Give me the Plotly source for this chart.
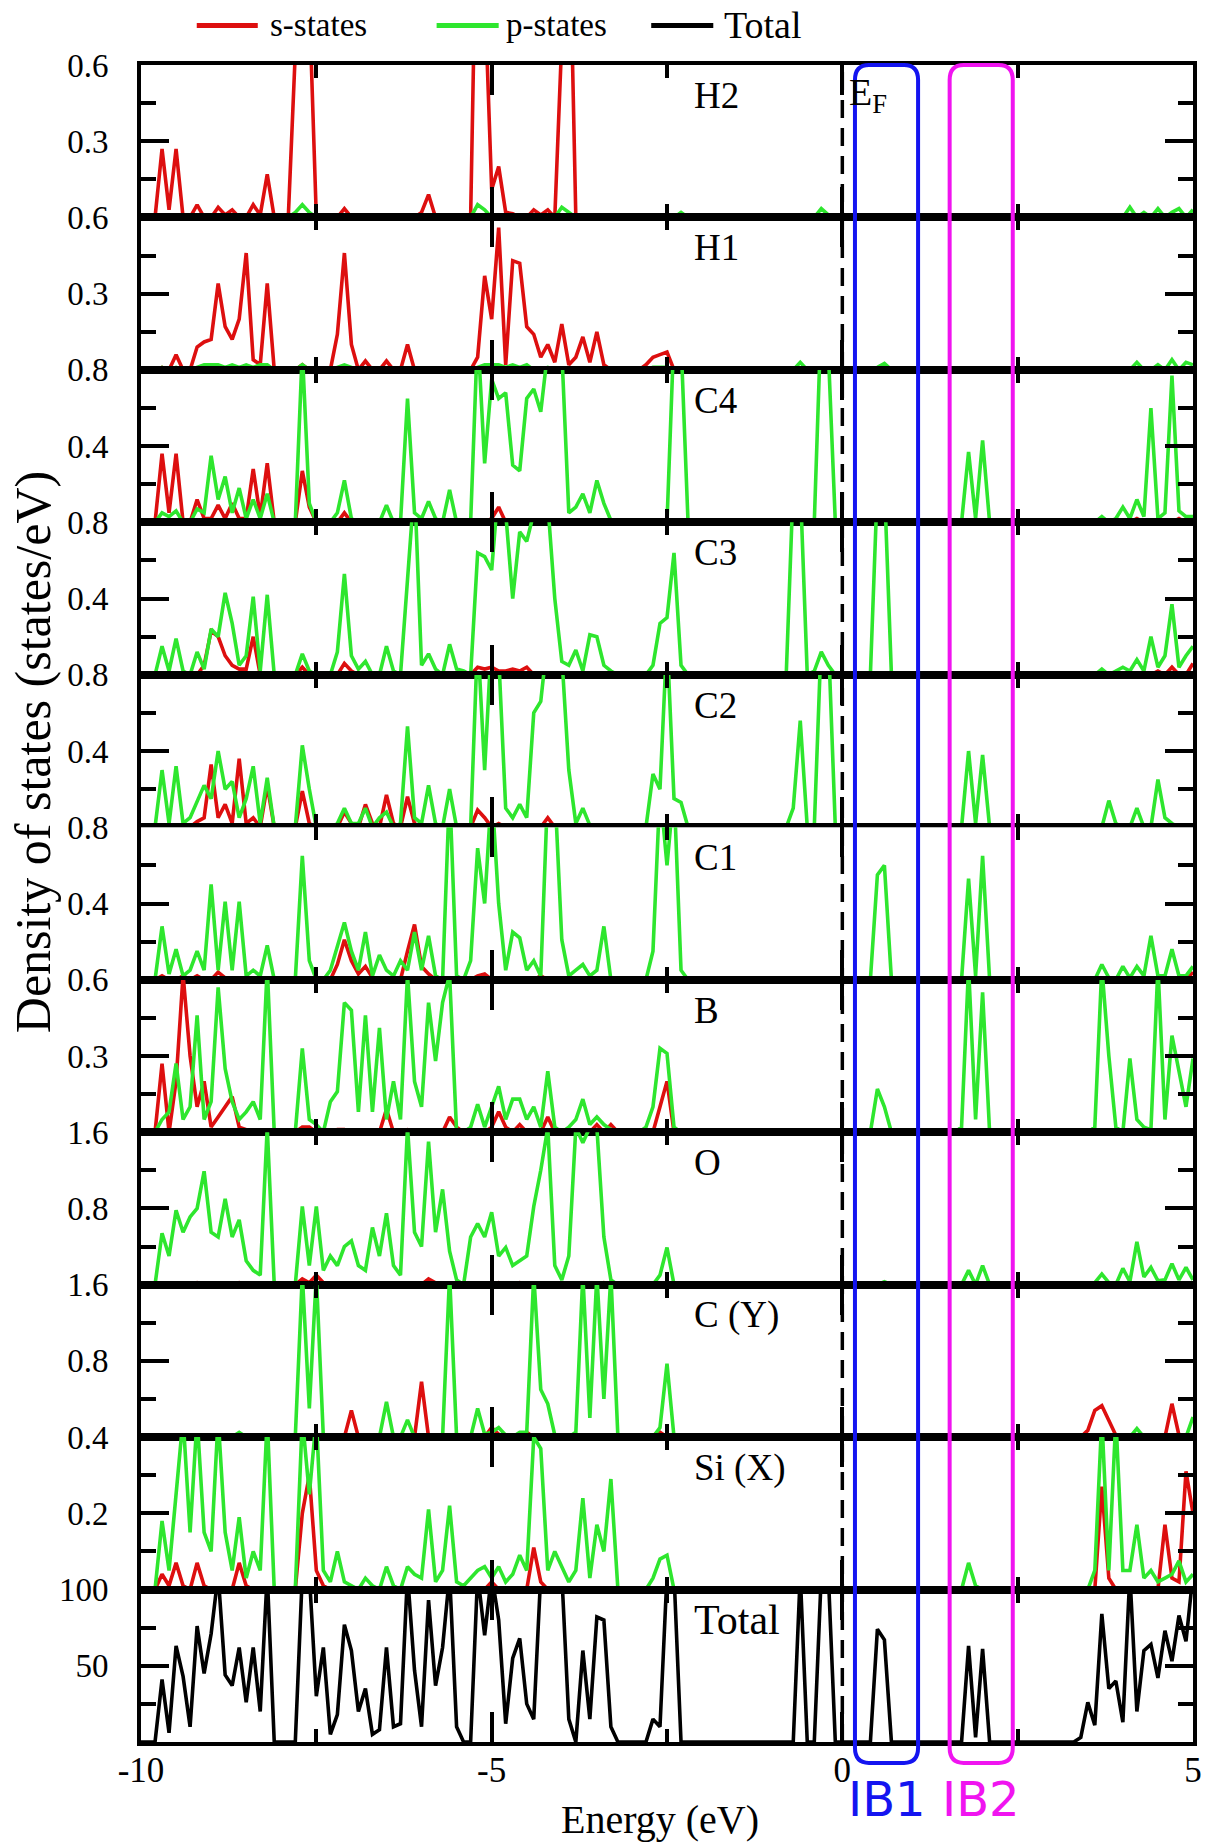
import plotly.graph_objects as go
from plotly.subplots import make_subplots

# Energy grid (eV)
energy = [round(-10 + 0.1 * i, 1) for i in range(151)]

panel_names = ["H2", "H1", "C4", "C3", "C2", "C1", "B", "O", "C (Y)", "Si (X)", "Total"]
panel_ymax = [0.6, 0.6, 0.8, 0.8, 0.8, 0.8, 0.6, 1.6, 1.6, 0.4, 100]
panel_ticktext = [["0.3", "0.6"], ["0.3", "0.6"], ["0.4", "0.8"], ["0.4", "0.8"], ["0.4", "0.8"],
                  ["0.4", "0.8"], ["0.3", "0.6"], ["0.8", "1.6"], ["0.8", "1.6"], ["0.2", "0.4"],
                  ["50", "100"]]
x_tickvals = [-10, -5, 0, 5]
x_ticktext = ["-10", "-5", "0", "5"]
legend_names = ["s-states", "p-states", "Total"]

H2_s = [
0,0,0,.27,.03,.27,0,0,.05,0,
0,.04,.01,.03,0,0,.05,.01,.17,0,
0,0,.65,1.5,.85,0,0,0,0,.035,
0,0,0,0,0,0,0,0,0,0,
.02,.09,0,0,0,0,0,0,1.5,.9,
.11,.2,.02,.015,0,0,.03,.01,.03,0,
.7,1.3,0,0,0,0,0,0,0,0,
0,0,0,0,0,0,0,0,0,0,
0,0,0,0,0,0,0,0,0,0,
0,0,0,0,0,0,0,0,0,0,
0,0,0,0,0,0,0,0,0,0,
0,0,0,0,0,0,0,0,0,0,
0,0,0,0,0,0,0,0,0,0,
0,0,0,0,0,0,0,0,0,0,
0,0,0,0,0,0,0,0,0,0,
0]
H2_p = [
0,0,0,.01,0,.01,0,0,0,0,
0,0,0,0,0,0,0,0,.01,0,
0,0,.02,.05,.02,0,0,0,0,0,
0,0,0,0,0,0,0,0,0,0,
0,0,0,0,0,0,0,0,.05,.03,
0,0,0,0,0,0,0,0,0,0,
.04,.02,0,0,0,0,0,0,0,0,
0,0,0,0,0,0,0,.02,0,0,
0,0,0,0,0,0,0,0,0,0,
0,0,0,0,0,0,0,.035,.01,0,
0,0,0,0,0,0,0,0,0,0,
0,0,0,0,0,0,0,0,.01,0,
.01,0,0,0,0,0,0,0,0,0,
0,0,0,0,0,0,0,0,.01,0,
0,.04,0,.02,0,.035,0,.02,.035,0,
.03]
H1_s = [
0,0,0,.01,0,.06,0,0,.09,.11,
.12,.34,.17,.12,.2,.46,.04,.02,.34,0,
0,0,0,.02,0,0,0,0,.14,.46,
.1,0,.035,0,0,.035,0,0,.1,0,
0,0,0,0,0,0,0,0,.05,.37,
.2,.56,.02,.43,.42,.17,.14,.05,.1,.03,
.18,.02,.05,.13,.03,.15,.02,0,0,0,
0,0,.02,.05,.06,.07,0,0,0,0,
0,0,0,0,0,0,0,0,0,0,
0,0,0,0,0,0,0,0,0,0,
0,0,0,0,0,0,0,0,0,0,
0,0,0,0,0,0,0,0,0,0,
0,0,0,0,0,0,0,0,0,0,
0,0,0,0,0,0,0,0,0,0,
0,0,0,0,0,0,0,0,0,0,
0]
H1_p = [
0,0,0,.01,0,.01,0,0,.01,.02,
.02,.02,.01,.02,.01,.02,.01,.02,.02,0,
0,0,0,.02,0,0,0,0,.01,.02,
.01,0,0,0,0,0,0,0,0,0,
0,0,0,0,0,0,0,0,.01,.02,
.02,.02,.01,.02,.01,.02,0,0,.01,0,
0,0,0,0,0,0,0,0,0,0,
0,0,0,.01,.01,.01,0,0,0,0,
0,0,0,0,0,0,0,0,0,0,
0,0,0,0,.03,0,0,0,0,0,
0,0,0,0,0,.01,.025,0,0,0,
0,0,0,0,0,0,0,0,0,0,
0,0,0,0,0,0,0,0,0,0,
0,0,0,0,0,0,0,0,0,0,
0,0,.03,0,0,.02,0,.04,0,.03,
.02]
C4_s = [
0,0,0,.36,.05,.36,0,0,.12,.02,
.02,.09,.02,.1,.02,.02,.28,.03,.31,0,
0,0,0,.27,.08,0,0,0,0,.05,
0,0,0,0,0,0,0,0,0,0,
0,0,0,0,0,0,0,0,0,0,
.02,.08,0,0,0,0,0,0,0,0,
0,0,0,0,0,0,0,0,0,0,
0,0,0,0,0,0,0,0,0,0,
0,0,0,0,0,0,0,0,0,0,
0,0,0,0,0,0,0,0,0,0,
0,0,0,0,0,0,0,0,0,0,
0,0,0,0,0,0,0,0,0,0,
0,0,0,0,0,0,0,0,0,0,
0,0,0,0,0,0,0,0,0,0,
0,0,.02,0,0,0,0,0,.02,0,
0]
C4_p = [
0,0,0,.05,.03,.06,0,0,.07,.05,
.35,.12,.24,.05,.18,.02,.12,.02,.15,0,
0,0,0,.9,.1,0,0,0,.05,.22,
.02,0,0,0,0,.09,0,0,.65,.05,
.02,.11,.02,0,.17,0,0,0,1.0,.31,
.75,.65,.68,.3,.27,.65,.7,.58,.9,.95,
.9,.05,.08,.15,.05,.22,.1,.01,0,0,
0,0,0,0,0,0,1.0,.95,0,0,
0,0,0,0,0,0,0,0,0,0,
0,0,0,0,0,0,0,1.1,.9,0,
0,0,0,0,0,0,0,0,0,0,
0,0,0,0,0,0,0,0,.37,.02,
.43,0,0,0,0,0,0,0,0,0,
0,0,0,0,0,.01,0,.03,0,.02,
.08,.02,.12,.03,.6,.02,.05,.77,.06,.03,
.03]
C3_s = [
0,0,0,0,0,0,0,0,0,.05,
.23,.2,.1,.05,.03,.03,.2,0,0,0,
0,0,0,.04,0,0,0,0,0,.06,
.02,0,0,0,0,0,0,0,0,0,
0,0,0,0,0,0,0,0,.04,.03,
.04,.02,.02,.03,.02,.04,0,0,0,0,
0,0,0,0,0,0,0,0,0,0,
0,0,0,0,0,0,0,0,0,0,
0,0,0,0,0,0,0,0,0,0,
0,0,0,0,0,0,0,0,0,0,
0,0,0,0,0,0,0,0,0,0,
0,0,0,0,0,0,0,0,0,0,
0,0,0,0,0,0,0,0,0,0,
0,0,0,0,0,0,0,0,0,0,
0,0,0,0,0,.02,0,.04,0,0,
.06]
C3_p = [
0,0,0,.15,.02,.19,.02,0,.12,.03,
.24,.2,.43,.27,.05,.1,.41,.02,.42,0,
0,0,0,.11,.02,0,0,0,.12,.53,
.1,.03,.07,0,0,.15,.02,0,.5,1.0,
.05,.11,.03,0,.16,.03,.02,0,.64,.62,
.55,1.0,.85,.4,.75,.7,.85,1.0,.9,.4,
.07,.05,.13,.02,.21,.2,.05,.02,0,0,
0,0,0,.05,.27,.3,.64,.05,0,0,
0,0,0,0,0,0,0,0,0,0,
0,0,0,1.0,1.0,0,.02,.12,.05,0,
0,0,0,0,0,1.0,1.0,0,0,0,
0,0,0,0,0,0,0,0,0,0,
0,0,0,0,0,0,0,0,0,0,
0,0,0,0,0,.01,0,.03,0,.02,
.04,.02,.08,.02,.2,.04,.1,.37,.04,.1,
.15]
C2_s = [
0,0,0,0,0,0,0,0,.03,.05,
.33,.05,.12,.02,.36,.02,.05,0,.22,0,
0,0,0,.19,.02,0,0,0,0,.08,
.02,0,.12,.02,0,.17,.02,0,.16,.02,
0,0,0,0,0,0,0,0,.09,.05,
0,.02,0,0,0,0,0,0,.05,0,
0,0,0,0,0,0,0,0,0,0,
0,0,0,0,0,0,0,0,0,0,
0,0,0,0,0,0,0,0,0,0,
0,0,0,0,0,0,0,0,0,0,
0,0,0,0,0,0,0,0,0,0,
0,0,0,0,0,0,0,0,0,0,
0,0,0,0,0,0,0,0,0,0,
0,0,0,0,0,0,0,0,0,0,
0,0,0,0,0,0,0,0,0,0,
0]
C2_p = [
0,0,0,.3,.02,.32,.02,.05,.14,.22,
.15,.4,.2,.24,.05,.15,.32,.02,.26,0,
0,0,0,.43,.2,0,0,0,.02,.1,
.02,.02,.1,0,.05,.08,0,.02,.53,.05,
.02,.22,.02,0,.2,0,0,0,1.0,.3,
1.0,.9,.1,.05,.12,.05,.6,.66,1.0,1.0,
.9,.3,.02,.1,.01,0,0,0,0,0,
0,0,0,.28,.2,1.0,.15,.13,0,0,
0,0,0,0,0,0,0,0,0,0,
0,0,0,.1,.56,0,0,1.0,1.0,0,
0,0,0,0,.01,.01,0,0,0,0,
0,0,0,0,0,0,0,0,.4,.02,
.38,0,0,0,0,0,0,0,0,0,
0,0,0,0,0,0,0,0,.14,.02,
0,0,.1,0,0,.25,.05,.02,0,0,
.01]
C1_s = [
0,0,0,.02,0,0,.02,0,.02,0,
0,.04,.01,0,0,0,0,0,0,0,
0,0,0,0,0,0,0,0,.08,.21,
.1,.03,.07,.01,0,0,0,0,.15,.29,
.07,.03,0,0,0,0,0,0,.02,.03,
0,0,0,0,0,.01,0,.02,0,0,
0,0,0,0,0,0,0,0,0,0,
0,0,0,0,0,0,0,0,0,0,
0,0,0,0,0,0,0,0,0,0,
0,0,0,0,0,0,0,0,0,0,
0,0,0,0,0,0,0,0,0,0,
0,0,0,0,0,0,0,0,0,0,
0,0,0,0,0,0,0,0,0,0,
0,0,0,0,0,0,0,0,0,0,
0,0,0,0,0,0,0,0,0,0,
.04]
C1_p = [
0,0,0,.28,.03,.16,.02,.05,.15,.05,
.5,.05,.41,.05,.41,.02,.05,.02,.18,0,
0,0,0,.65,.1,0,0,.05,.18,.3,
.15,.05,.25,.02,.13,.05,.02,.1,.05,.25,
.05,.23,.02,0,1.0,.02,0,.1,.69,.4,
1.0,.4,.05,.25,.22,.05,.1,.02,1.0,1.0,
.21,.02,.05,.08,.02,.05,.28,0,0,0,
0,0,0,.15,1.0,.6,1.0,.05,0,0,
0,0,0,0,0,0,0,0,0,0,
0,0,0,0,0,0,0,0,0,0,
0,0,0,0,0,.55,.6,0,0,0,
0,0,0,0,0,0,0,0,.53,.02,
.65,0,0,0,0,0,0,0,0,0,
0,0,0,0,0,.01,0,.08,.01,0,
.07,.01,.07,.02,.23,.02,.02,.16,.02,.02,
.07]
B_s = [
0,0,0,.27,0,.2,.62,.3,.1,.2,
.02,.06,.1,.14,.02,.01,0,0,0,0,
0,0,0,.02,.02,0,0,0,.01,.01,
0,0,0,0,0,.09,0,0,.01,0,
0,0,0,0,.06,.02,0,0,0,0,
.02,.08,.02,0,.03,0,0,0,.06,0,
0,0,0,0,0,.03,0,.03,0,0,
0,0,0,0,.1,.2,0,0,0,0,
0,0,0,0,0,0,0,0,0,0,
0,0,0,0,0,0,0,0,0,0,
0,0,0,0,0,0,0,0,0,0,
0,0,0,0,0,0,0,0,0,0,
0,0,0,0,0,0,0,0,0,0,
0,0,0,0,0,0,0,0,0,0,
0,0,0,0,0,0,0,0,0,0,
0]
B_p = [
0,0,0,.05,.08,.27,.05,.1,.46,.05,
.12,.57,.25,.12,.05,.08,.12,.05,.65,0,
0,0,0,.33,.05,.03,0,.12,.16,.51,
.48,.08,.46,.08,.41,.05,.2,.05,.62,.2,
.1,.51,.28,.51,.62,0,0,.02,.11,.02,
.1,.18,.05,.13,.13,.05,.1,.02,.24,.02,
0,.02,.05,.13,.03,.06,.03,.01,0,0,
0,0,.02,.1,.33,.31,.02,0,0,0,
0,0,0,0,0,0,0,0,0,0,
0,0,0,0,0,0,0,0,0,0,
0,0,0,0,0,.17,.1,0,0,0,
0,0,0,0,0,0,0,.02,.65,.05,
.55,0,0,0,0,0,0,0,0,0,
0,0,0,0,0,0,.02,.65,.3,.02,
0,.29,.05,.02,.01,.65,.05,.38,.24,.1,
.29]
O_s = [
0,0,0,0,0,0,0,0,.02,0,
0,0,0,0,.02,0,0,0,0,0,
0,0,0,.06,.02,.1,.02,0,0,0,
0,0,0,0,0,0,0,0,0,0,
0,.06,.02,0,0,0,0,0,0,0,
0,.02,0,0,.02,0,0,0,0,0,
0,0,0,0,0,0,.02,0,0,0,
0,0,0,0,0,0,0,0,0,0,
0,0,0,0,0,0,0,0,0,0,
0,0,0,0,0,0,0,0,0,0,
0,0,0,0,0,0,0,0,0,0,
0,0,0,0,0,0,0,0,0,0,
0,0,0,0,0,0,0,0,0,0,
0,0,0,0,0,0,0,0,0,0,
0,0,0,0,0,0,0,0,0,0,
0]
O_p = [
0,0,0,.54,.3,.78,.55,.71,.8,1.19,
.55,.5,.9,.5,.68,.25,.15,.1,1.65,0,
0,0,0,.82,.2,.82,.15,.3,.2,.4,
.46,.2,.15,.6,.3,.75,.2,.1,1.65,.55,
.4,1.5,.55,1.0,.35,.05,0,.5,.64,.5,
.76,.3,.39,.2,.25,.3,.82,1.2,1.65,.2,
.05,.3,1.65,1.49,1.65,1.65,.5,.05,0,0,
0,0,0,0,.1,.39,0,0,0,0,
0,0,0,0,0,0,0,0,0,0,
0,0,0,0,0,0,0,0,0,0,
0,0,0,0,0,0,.03,0,0,0,
0,0,0,0,0,0,0,0,.15,0,
.2,0,0,0,0,0,0,0,0,0,
0,0,0,0,0,0,.02,.11,.02,0,
.17,.03,.45,.08,.18,.04,.05,.22,.05,.18,
.05]
CY_s = [
0,0,0,0,0,0,0,0,0,0,
0,0,0,0,0,0,0,0,0,0,
0,0,0,0,0,0,0,0,0,0,
.28,0,0,0,0,0,0,0,0,0,
.58,0,0,0,0,0,0,0,0,0,
.1,.03,0,0,0,.05,0,0,0,0,
0,0,0,0,0,0,0,0,0,0,
0,0,0,.02,.05,0,0,0,0,0,
0,0,0,0,0,0,0,0,0,0,
0,0,0,0,0,0,0,0,0,0,
0,0,0,0,0,0,0,0,0,0,
0,0,0,0,0,0,0,0,0,0,
0,0,0,0,0,0,0,0,0,0,
0,0,0,0,0,.07,.28,.33,.18,.02,
0,0,0,0,0,0,0,.35,.02,0,
0]
CY_p = [
0,0,0,0,0,0,0,0,0,0,
0,0,0,0,.05,0,0,0,0,0,
0,0,0,1.7,.3,1.7,0,0,0,0,
0,0,0,0,0,.37,0,0,.18,0,
0,0,0,0,1.7,0,0,0,.3,.03,
.05,.1,.02,0,.05,.05,1.7,.5,.35,.02,
.01,0,.05,1.7,.2,1.7,.4,1.7,0,0,
0,0,0,0,.1,.77,0,0,0,0,
0,0,0,0,0,0,0,0,0,0,
0,0,0,0,0,0,0,0,0,0,
0,0,0,0,0,0,0,0,0,0,
0,0,0,0,0,0,0,0,0,0,
0,0,0,0,0,0,0,0,0,0,
0,0,0,0,0,0,0,0,0,0,
0,0,.09,0,0,0,.02,0,0,0,
.21]
Si_s = [
0,0,0,.04,.01,.07,.01,0,.07,.01,
0,0,0,0,.07,.01,0,0,0,0,
0,0,0,.2,.3,.05,.01,0,0,0,
0,0,0,0,0,0,0,0,0,0,
0,0,0,0,0,0,0,0,0,0,
.02,0,0,0,0,0,.11,.02,0,0,
0,0,0,0,0,0,0,0,0,0,
0,0,0,0,0,0,0,0,0,0,
0,0,0,0,0,0,0,0,0,0,
0,0,0,0,0,0,0,0,0,0,
0,0,0,0,0,0,0,0,0,0,
0,0,0,0,0,0,0,0,0,0,
0,0,0,0,0,0,0,0,0,0,
0,0,0,0,0,0,0,.27,.03,0,
0,0,0,0,0,0,.17,.03,.02,.31,
.2]
Si_p = [
0,0,0,.18,.05,.25,.45,.15,.45,.15,
.1,.45,.15,.05,.19,.03,.1,.05,.45,0,
0,0,0,.45,.25,.45,.05,.02,.1,.02,
.01,0,.03,.01,0,.06,.01,0,.06,.04,
.03,.21,.02,.05,.22,.02,.01,.03,.05,.06,
.03,.06,.02,.04,.09,.05,.4,.37,.05,.1,
.06,.02,.05,.24,.03,.17,.1,.29,0,0,
0,0,0,.03,.08,.09,0,0,0,0,
0,0,0,0,0,0,0,0,0,0,
0,0,0,0,0,0,0,0,0,0,
0,0,0,0,0,0,0,0,0,0,
0,0,0,0,0,0,0,0,.07,.01,
0,0,0,0,0,0,0,0,0,0,
0,0,0,0,0,0,.05,.45,.05,.45,
.05,.05,.17,.03,.05,.02,.03,.04,.075,.02,
.04]
Total = [
0,0,0,41,6,63,43,10,76,45,
71,110,44,37,62,26,62,20,110,0,
0,0,0,110,110,30,62,5,18,77,
60,20,35,5,8,62,10,12,110,47,
10,93,37,62,110,10,0,0,110,70,
110,80,12,55,68,25,15,110,110,110,
110,15,0,60,15,82,80,10,0,0,
0,0,0,15,10,110,110,0,0,0,
0,0,0,0,0,0,0,0,0,0,
0,0,0,0,110,0,0,110,110,0,
0,0,0,0,0,74,67,0,0,0,
0,0,0,0,0,0,0,0,63,3,
61,0,0,0,0,0,0,0,0,0,
0,0,0,0,3,26,11,84,35,40,
13,110,20,60,64,42,73,53,83,66,
110]

s_series = [H2_s, H1_s, C4_s, C3_s, C2_s, C1_s, B_s, O_s, CY_s, Si_s]
p_series = [H2_p, H1_p, C4_p, C3_p, C2_p, C1_p, B_p, O_p, CY_p, Si_p]
for arr in s_series + p_series + [Total]:
    assert len(arr) == len(energy), len(arr)

# intermediate-band windows (eV)
IB1_range = [0.18, 1.08]
IB2_range = [1.53, 2.43]

RED = "#dd0f0f"
GREEN = "#2ee62e"
BLUE = "#1414f0"
MAGENTA = "#f014f0"
SERIF = "Liberation Serif, Times New Roman, serif"
LINE_W = 3.6

N = 11
fig = make_subplots(rows=N, cols=1, shared_xaxes=True, vertical_spacing=0)

for r in range(1, N):
    fig.add_trace(go.Scatter(x=energy, y=s_series[r - 1], mode="lines",
                             line=dict(color=RED, width=LINE_W), name=legend_names[0],
                             showlegend=False), row=r, col=1)
    fig.add_trace(go.Scatter(x=energy, y=p_series[r - 1], mode="lines",
                             line=dict(color=GREEN, width=LINE_W), name=legend_names[1],
                             showlegend=False), row=r, col=1)
fig.add_trace(go.Scatter(x=energy, y=Total, mode="lines",
                         line=dict(color="black", width=LINE_W), name=legend_names[2],
                         showlegend=False), row=N, col=1)

for r in range(1, N + 1):
    ymax = panel_ymax[r - 1]
    fig.update_yaxes(row=r, col=1, range=[0, ymax],
                     tickmode="array", tickvals=[ymax / 2, ymax], ticktext=panel_ticktext[r - 1],
                     ticks="inside", ticklen=28, tickwidth=3.5, tickcolor="black",
                     minor=dict(tickmode="array", tickvals=[ymax / 4, 3 * ymax / 4],
                                ticks="inside", ticklen=15, tickwidth=3.5, tickcolor="black"),
                     showline=True, linewidth=4, linecolor="black", mirror="ticks",
                     showgrid=False, zeroline=False,
                     tickfont=dict(family=SERIF, size=33, color="black"),
                     ticklabelstandoff=22)
    fig.update_xaxes(row=r, col=1, range=[-10, 5],
                     tickmode="array", tickvals=x_tickvals, ticktext=x_ticktext,
                     ticks="inside", ticklen=30, tickwidth=3.5, tickcolor="black",
                     minor=dict(tickmode="array", tickvals=[-7.5, -2.5, 2.5],
                                ticks="inside", ticklen=13, tickwidth=3.5, tickcolor="black"),
                     showline=True, linewidth=4, linecolor="black", mirror="ticks",
                     showgrid=False, zeroline=False,
                     tickfont=dict(family=SERIF, size=35, color="black"),
                     ticklabelstandoff=-6)

annotations = []
for r in range(1, N + 1):
    yref = ("y" if r == 1 else f"y{r}") + " domain"
    size = 42 if panel_names[r - 1] == "Total" else 37
    annotations.append(dict(x=-2.15, xref="x", xanchor="left", y=0.80, yref=yref, yanchor="middle",
                            text=panel_names[r - 1], showarrow=False,
                            font=dict(family=SERIF, size=size, color="black")))

annotations.append(dict(x=0.07, xref="x", xanchor="left", y=0.80, yref="y domain", yanchor="middle",
                        text="E<sub>F</sub>", showarrow=False,
                        font=dict(family=SERIF, size=38, color="black")))
annotations.append(dict(x=-0.103, xref="paper", y=0.59, yref="paper", xanchor="center", yanchor="middle",
                        text="Density of states (states/eV)", textangle=-90, showarrow=False,
                        font=dict(family=SERIF, size=50, color="black")))
annotations.append(dict(x=-2.6, xref="x", y=-0.046, yref="paper", xanchor="center", yanchor="middle",
                        text="Energy (eV)", showarrow=False,
                        font=dict(family=SERIF, size=40, color="black")))
annotations.append(dict(x=sum(IB1_range) / 2, xref="x", y=-0.034, yref="paper", xanchor="center",
                        yanchor="middle", text="IB1", showarrow=False,
                        font=dict(family="DejaVu Sans", size=48, color=BLUE)))
annotations.append(dict(x=sum(IB2_range) / 2, xref="x", y=-0.034, yref="paper", xanchor="center",
                        yanchor="middle", text="IB2", showarrow=False,
                        font=dict(family="DejaVu Sans", size=48, color=MAGENTA)))

# legend drawn at the top (line sample + label), in paper coordinates
legend_colors = [RED, GREEN, "black"]
legend_line_x = [(0.053, 0.111), (0.281, 0.340), (0.485, 0.544)]
legend_text_x = [0.1205, 0.345, 0.552]
legend_font_sizes = [33, 33, 38]
LEGEND_Y = 1.0236

shapes = []
for name, col, (lx0, lx1), tx, fs in zip(legend_names, legend_colors, legend_line_x,
                                         legend_text_x, legend_font_sizes):
    shapes.append(dict(type="line", xref="paper", yref="paper", x0=lx0, x1=lx1,
                       y0=LEGEND_Y, y1=LEGEND_Y, line=dict(color=col, width=5)))
    annotations.append(dict(x=tx, xref="paper", y=LEGEND_Y, yref="paper", xanchor="left",
                            yanchor="middle", text=name, showarrow=False,
                            font=dict(family=SERIF, size=fs, color="black")))


def rounded_box(x0, x1, y0, y1, rx=0.2, ry=0.009):
    return (f"M {x0 + rx},{y1} L {x1 - rx},{y1} Q {x1},{y1} {x1},{y1 - ry} "
            f"L {x1},{y0 + ry} Q {x1},{y0} {x1 - rx},{y0} L {x0 + rx},{y0} "
            f"Q {x0},{y0} {x0},{y0 + ry} L {x0},{y1 - ry} Q {x0},{y1} {x0 + rx},{y1} Z")


shapes += [
    dict(type="line", xref="x", yref="paper", x0=0, x1=0, y0=0, y1=1,
         line=dict(color="black", width=3.5, dash="18px,10px")),
    dict(type="path", xref="x", yref="paper", path=rounded_box(IB1_range[0], IB1_range[1], -0.0125, 1.0),
         line=dict(color=BLUE, width=4)),
    dict(type="path", xref="x", yref="paper", path=rounded_box(IB2_range[0], IB2_range[1], -0.0125, 1.0),
         line=dict(color=MAGENTA, width=4)),
]

fig.update_layout(
    width=1214, height=1843,
    margin=dict(l=141, r=19, t=65, b=101),
    paper_bgcolor="white", plot_bgcolor="white",
    showlegend=False,
    annotations=annotations,
    shapes=shapes,
    font=dict(family=SERIF, color="black"),
)

fig.write_html("out.html")
